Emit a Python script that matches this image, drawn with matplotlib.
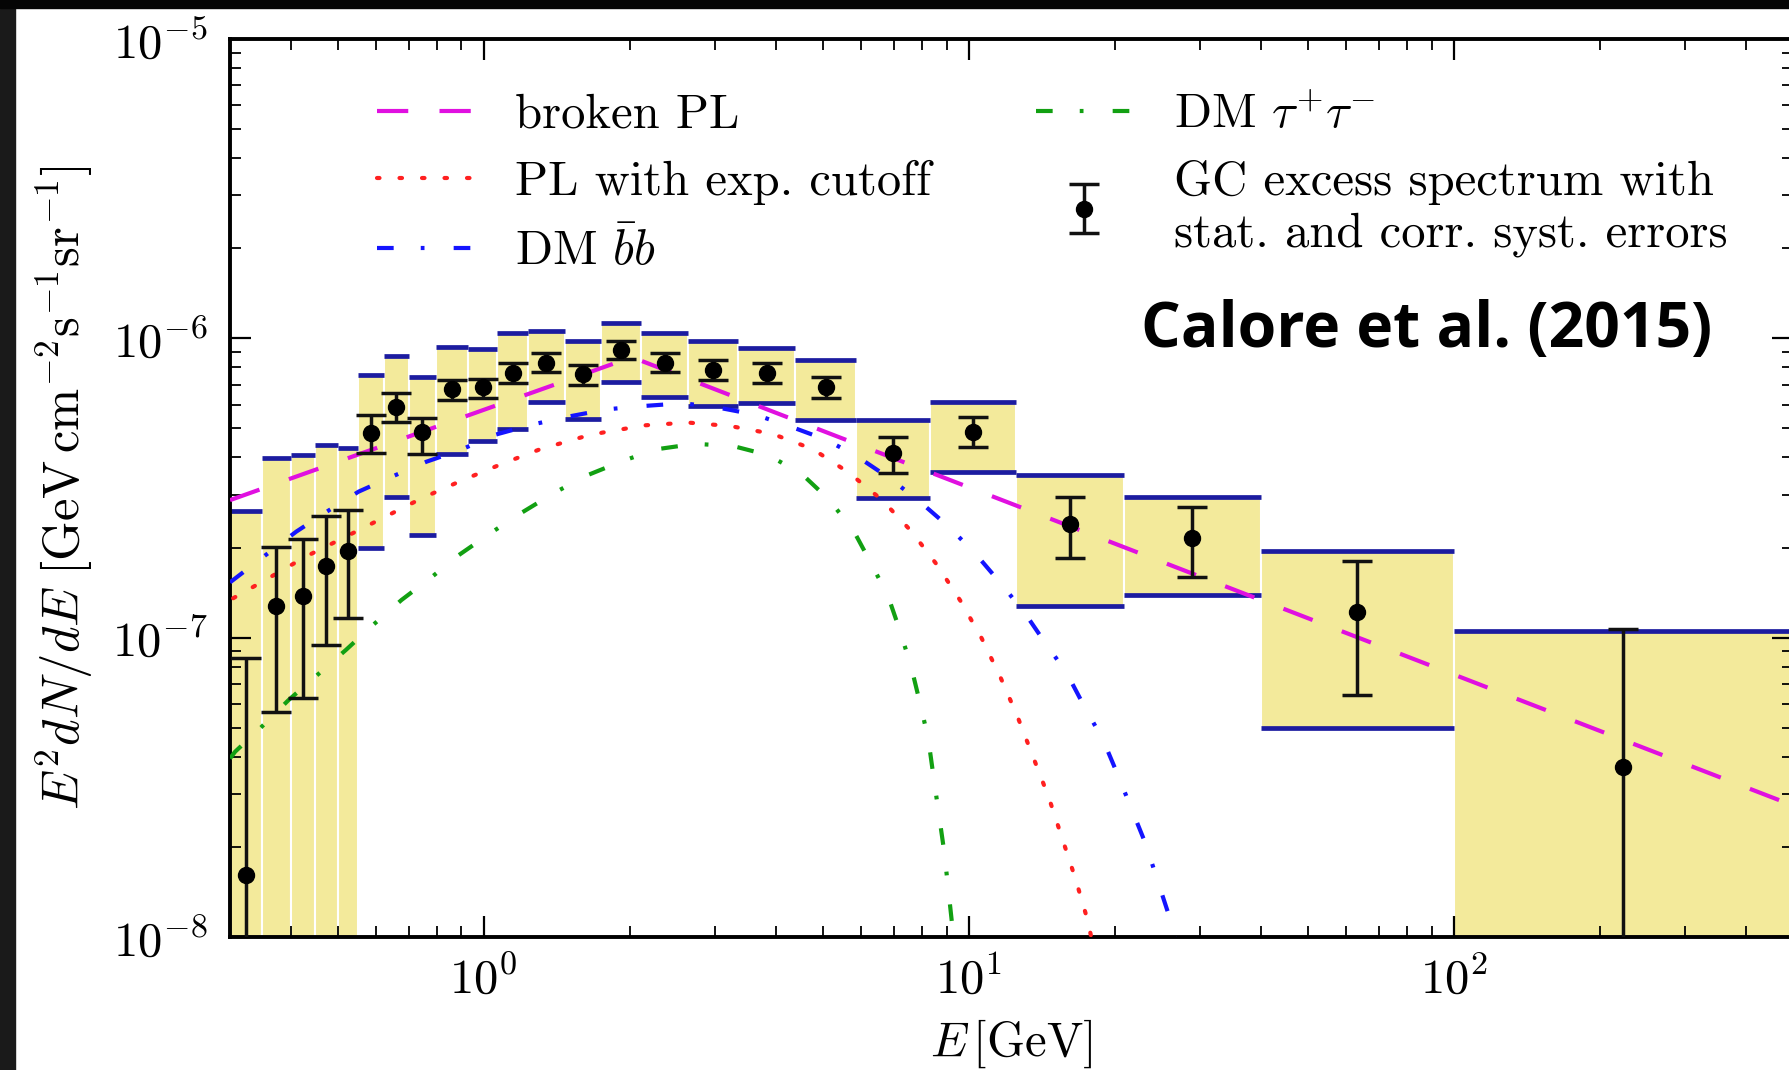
import matplotlib
matplotlib.use("Agg")
from matplotlib import pyplot as plt
from matplotlib.patches import Rectangle
import numpy as np

plt.rcParams['font.family'] = ['serif']
plt.rcParams['font.serif'] = ['cmr10', 'DejaVu Serif']
plt.rcParams['mathtext.fontset'] = 'cm'
plt.rcParams['axes.formatter.use_mathtext'] = True

# energy bins [GeV]
E_lo = [0.30, 0.35, 0.40, 0.45, 0.50, 0.55, 0.624, 0.70, 0.796, 0.927, 1.067, 1.235,
        1.469, 1.747, 2.112, 2.637, 3.347, 4.389, 5.849, 8.318, 12.49, 20.9, 40.0, 100.0]
E_hi = [0.35, 0.40, 0.45, 0.50, 0.55, 0.624, 0.70, 0.796, 0.927, 1.067, 1.235, 1.469,
        1.747, 2.112, 2.637, 3.347, 4.389, 5.849, 8.318, 12.49, 20.9, 40.0, 100.0, 500.0]
E_mid = [0.324, 0.374, 0.424, 0.474, 0.524, 0.586, 0.661, 0.746, 0.859, 0.995, 1.148, 1.347,
         1.602, 1.921, 2.36, 2.971, 3.833, 5.067, 6.975, 10.19, 16.16, 28.9, 63.2, 223.6]

# GC excess flux and error bar ends
flux = [1.61e-8, 1.28e-7, 1.38e-7, 1.73e-7, 1.94e-7, 4.82e-7, 5.88e-7, 4.85e-7, 6.76e-7, 6.9e-7,
        7.64e-7, 8.27e-7, 7.6e-7, 9.12e-7, 8.3e-7, 7.82e-7, 7.64e-7, 6.85e-7, 4.13e-7, 4.87e-7,
        2.4e-7, 2.16e-7, 1.22e-7, 3.69e-8]
err_hi = [8.53e-8, 2.01e-7, 2.13e-7, 2.54e-7, 2.67e-7, 5.54e-7, 6.59e-7, 5.4e-7, 7.26e-7, 7.3e-7,
          8.25e-7, 8.9e-7, 8.15e-7, 9.8e-7, 8.95e-7, 8.47e-7, 8.25e-7, 7.45e-7, 4.68e-7, 5.47e-7,
          2.95e-7, 2.74e-7, 1.8e-7, 1.07e-7]
err_lo = [1e-9, 5.66e-8, 6.3e-8, 9.45e-8, 1.16e-7, 4.15e-7, 5.26e-7, 4.1e-7, 6.22e-7, 6.3e-7,
          7.08e-7, 7.7e-7, 6.99e-7, 8.5e-7, 7.74e-7, 7.24e-7, 7.08e-7, 6.3e-7, 3.54e-7, 4.32e-7,
          1.84e-7, 1.6e-7, 6.45e-8, 1e-9]

# systematic band (yellow boxes)
sys_hi = [2.65e-7, 3.98e-7, 4.08e-7, 4.4e-7, 4.3e-7, 7.53e-7, 8.7e-7, 7.4e-7, 9.37e-7, 9.19e-7,
          1.04e-6, 1.055e-6, 9.8e-7, 1.128e-6, 1.04e-6, 9.82e-7, 9.26e-7, 8.46e-7, 5.33e-7, 6.14e-7,
          3.5e-7, 2.94e-7, 1.95e-7, 1.05e-7]
sys_lo = [1e-9, 1e-9, 1e-9, 1e-9, 1e-9, 2.0e-7, 2.96e-7, 2.2e-7, 4.1e-7, 4.54e-7,
          4.97e-7, 6.12e-7, 5.38e-7, 7.17e-7, 6.38e-7, 5.94e-7, 6.08e-7, 5.33e-7, 2.92e-7, 3.58e-7,
          1.28e-7, 1.39e-7, 4.98e-8, 1e-9]

# model curves
bpl_E = [0.3, 2.02, 500.0]
bpl_F = [2.88e-7, 8.65e-7, 2.75e-8]

cut_E = [0.3045, 0.3618, 0.43, 0.5201, 0.6216, 0.7456, 0.8973, 1.086, 1.306, 1.591, 1.756, 2.148,
         2.637, 3.227, 3.945, 4.774, 5.655, 6.63, 7.606, 8.6, 9.603, 10.63, 11.63, 12.6, 14.61,
         16.6, 17.57, 18.0]
cut_F = [1.354e-7, 1.587e-7, 1.866e-7, 2.175e-7, 2.517e-7, 2.922e-7, 3.339e-7, 3.796e-7, 4.258e-7,
         4.67e-7, 4.84e-7, 5.12e-7, 5.23e-7, 5.09e-7, 4.79e-7, 4.26e-7, 3.56e-7, 2.88e-7, 2.27e-7,
         1.75e-7, 1.33e-7, 9.95e-8, 7.35e-8, 5.45e-8, 2.93e-8, 1.56e-8, 1.14e-8, 9.5e-9]

bb_E = [0.3, 0.3534, 0.4108, 0.475, 0.5522, 0.647, 0.762, 0.897, 1.05, 1.26, 1.489, 1.793, 2.134,
        2.582, 3.091, 3.64, 4.293, 5.087, 5.9, 6.92, 8.02, 9.11, 10.34, 11.63, 13.06, 14.36, 15.9,
        17.31, 18.92, 20.25, 23.14, 25.9, 27.0]
bb_F = [1.53e-7, 1.875e-7, 2.26e-7, 2.636e-7, 3.074e-7, 3.45e-7, 3.87e-7, 4.24e-7, 4.75e-7, 5.15e-7,
        5.47e-7, 5.79e-7, 5.94e-7, 6.07e-7, 5.84e-7, 5.55e-7, 5.07e-7, 4.58e-7, 4.02e-7, 3.38e-7,
        2.8e-7, 2.34e-7, 1.9e-7, 1.52e-7, 1.205e-7, 9.62e-8, 7.64e-8, 5.88e-8, 4.55e-8, 3.5e-8,
        2.05e-8, 1.17e-8, 9.0e-9]

tau_E = [0.3, 0.3074, 0.3487, 0.3962, 0.4538, 0.5201, 0.5905, 0.677, 0.78, 0.889, 1.037, 1.2, 1.4,
         1.63, 1.94, 2.274, 2.723, 3.26, 3.863, 4.527, 5.14, 5.775, 6.26, 6.815, 7.214, 7.606,
         7.935, 8.247, 8.46, 8.897, 9.245, 9.35]
tau_F = [3.95e-8, 4.16e-8, 5.04e-8, 6.19e-8, 7.5e-8, 9.1e-8, 1.1e-7, 1.336e-7, 1.59e-7, 1.888e-7,
         2.244e-7, 2.62e-7, 3.05e-7, 3.48e-7, 3.9e-7, 4.26e-7, 4.44e-7, 4.37e-7, 4.07e-7, 3.52e-7,
         2.9e-7, 2.29e-7, 1.795e-7, 1.377e-7, 1.053e-7, 8.0e-8, 6.03e-8, 4.61e-8, 3.42e-8, 1.93e-8,
         1.09e-8, 9.0e-9]

E_lo = np.array(E_lo)
E_hi = np.array(E_hi)
sys_lo = np.array(sys_lo)
sys_hi = np.array(sys_hi)
flux = np.array(flux)

fig = plt.figure(figsize=(17.9, 10.7), dpi=100)
ax = fig.add_axes([0.1285, 0.1243, 0.8732, 0.8393])

yellow = '#f3ea9b'
navy = '#1c1ca0'

ax.bar(E_lo, sys_hi - sys_lo, width=E_hi - E_lo, bottom=sys_lo, align='edge',
       color=yellow, edgecolor='white', linewidth=1.5, zorder=1)
ax.hlines(sys_hi, E_lo, E_hi, color=navy, lw=3.4, zorder=2)
ax.hlines(sys_lo, E_lo, E_hi, color=navy, lw=3.4, zorder=2)

lw = 3
ax.plot(bpl_E, bpl_F, color='#e010e0', lw=lw, dashes=(7.5, 7.5), label='broken PL', zorder=3)
ax.plot(cut_E, cut_F, color='#ff2020', lw=lw, dashes=(0.6, 4.8), dash_capstyle='round',
        label='PL with exp. cutoff', zorder=3)
ax.plot(bb_E, bb_F, color='#1414ff', lw=lw, dashes=(4, 6.5, 0.9, 7), label=r'DM $\bar{b}b$', zorder=3)
ax.plot(tau_E, tau_F, color='#12a012', lw=lw, dashes=(4, 6.5, 0.9, 7), label=r'DM $\tau^{+}\tau^{-}$',
        zorder=3)
ax.errorbar(E_mid, flux, yerr=[flux - np.array(err_lo), np.array(err_hi) - flux], fmt='o',
            color='black', ecolor='#111111', ms=11.5, elinewidth=2.5, capsize=11, capthick=2.5,
            label='GC excess spectrum with\nstat. and corr. syst. errors', zorder=4)

ax.set_xscale('log')
ax.set_yscale('log')
ax.set_xlim(0.3, 500)
ax.set_ylim(1e-8, 1e-5)

ax.tick_params(which='both', direction='in', top=True, right=True, labelsize=35)
ax.tick_params(which='major', length=15, width=1.6)
ax.tick_params(which='minor', length=8, width=1.3)
ax.tick_params(axis='x', pad=14)
ax.tick_params(axis='y', pad=16)
for s in ax.spines.values():
    s.set_linewidth(2.8)

ax.set_xlabel(r'$E\,[\mathrm{GeV}]$', fontsize=35, labelpad=10)
ax.set_ylabel(r'$E^2dN/dE\ [\mathrm{GeV\,cm^{-2}s^{-1}sr^{-1}}]$', fontsize=36.5, labelpad=12)

ax.legend(loc='upper left', bbox_to_anchor=(0.094, 0.9395), ncol=2, frameon=False, fontsize=35,
          handlelength=2.0, handletextpad=0.85, columnspacing=2.15, labelspacing=0.46,
          borderpad=0, borderaxespad=0)

fig.text(1141 / 1790, 1 - 331 / 1070, 'Calore et al. (2015)', family=['Open Sans', 'DejaVu Sans'],
         weight='bold', fontsize=45, ha='left', va='center', color='black')

# screenshot frame
fig.patches.append(Rectangle((0, 0), 15 / 1790, 1, transform=fig.transFigure, color='#1a1a1a', zorder=10))
fig.patches.append(Rectangle((0, 1 - 8 / 1070), 1, 8 / 1070, transform=fig.transFigure, color='#050505',
                             zorder=10))

fig.savefig('out.png', dpi=100)
